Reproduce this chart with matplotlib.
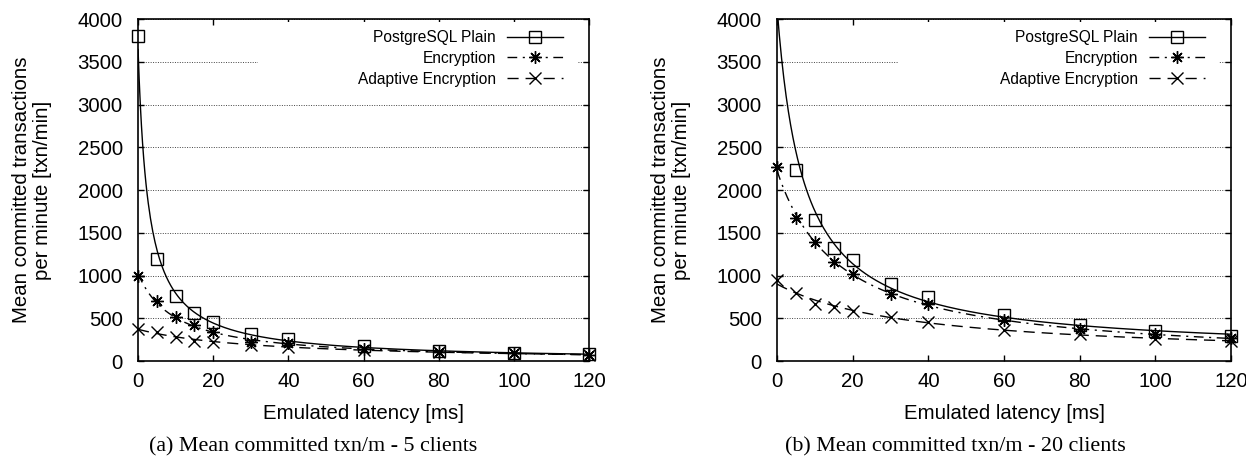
import matplotlib
matplotlib.use("Agg")
import matplotlib.pyplot as plt
from matplotlib.patches import Rectangle
import numpy as np

plt.rcParams["font.family"] = ["Liberation Sans", "DejaVu Sans"]

# emulated latency [ms]
latency = np.array([0, 5, 10, 15, 20, 30, 40, 60, 80, 100, 120])

# 5 clients
plain_5 = np.array([3800, 1190, 763, 566, 460, 311, 255, 170, 115, 95, 78])
enc_5 = np.array([1000, 696, 519, 421, 342, 224, 205, 145, 108, 90, 72])
adapt_5 = np.array([370, 342, 283, 236, 220, 193, 165, 130, 105, 88, 72])

# 20 clients (plain at 0 ms is above the plotted range)
plain_20 = np.array([4500, 2233, 1651, 1317, 1184, 896, 747, 540, 420, 355, 295])
enc_20 = np.array([2269, 1667, 1392, 1160, 1022, 787, 665, 480, 370, 310, 265])
adapt_20 = np.array([943, 795, 672, 637, 586, 519, 453, 368, 310, 262, 233])

series_labels = ["PostgreSQL Plain", "Encryption", "Adaptive Encryption"]
captions = ["(a) Mean committed txn/m - 5 clients",
            "(b) Mean committed txn/m - 20 clients"]

YMAX = 4000
STYLES = [
    dict(linestyle="-", marker="s", mfc="none", ms=8.5),
    dict(linestyle=(0, (7, 4, 1.5, 4)), marker=(8, 2, 0), mfc="none", ms=9),
    dict(linestyle=(0, (8, 5)), marker="x", mfc="none", ms=8.5),
]


def _fit_curve(x, y):
    # relative least squares fit of y = a / (x + b) + c, used for the smooth lines
    w = 1.0 / y
    best = None
    for b in np.linspace(0.3, 80, 800):
        A = np.column_stack([1.0 / (x + b), np.ones_like(x, dtype=float)])
        coef, *_ = np.linalg.lstsq(A * w[:, None], y * w, rcond=None)
        err = np.sum(((A @ coef - y) * w) ** 2)
        if best is None or err < best[0]:
            best = (err, b, coef)
    _, b, (a, c) = best
    xs = np.linspace(x.min(), x.max(), 400)
    return xs, a / (xs + b) + c


def _draw_panel(fig, rect, data):
    ax = fig.add_axes(rect)
    handles = []
    for y, label, style in zip(data, series_labels, STYLES):
        xs, ys = _fit_curve(latency.astype(float), y.astype(float))
        ax.plot(xs, ys, color="black", lw=1.0, linestyle=style["linestyle"],
                zorder=3)
        inside = y <= YMAX
        ax.plot(latency[inside], y[inside], linestyle="none", color="black",
                marker=style["marker"], mfc=style["mfc"], ms=style["ms"],
                mew=1.0, clip_on=False, zorder=4)
        h, = ax.plot([], [], color="black", lw=1.0,
                     linestyle=style["linestyle"], marker=style["marker"],
                     mfc=style["mfc"], ms=style["ms"], mew=1.0)
        h.set_label(label)
        handles.append(h)

    ax.set_xlim(0, 120)
    ax.set_ylim(0, YMAX)
    ax.set_xticks(np.arange(0, 121, 20))
    ax.set_yticks(np.arange(0, 4001, 500))
    ax.tick_params(direction="in", top=True, right=True, length=4.5,
                   width=1.0, labelsize=14.7)
    ax.tick_params(axis="y", pad=11)
    ax.tick_params(axis="x", pad=8)
    for s in ax.spines.values():
        s.set_linewidth(1.2)
    ax.yaxis.grid(True, linestyle=(0, (1, 1.5)), color="#444444", lw=0.7)
    ax.set_axisbelow(True)

    # white key box that hides the grid, as in gnuplot
    ax.add_patch(Rectangle((0.266, 0.77), 0.707, 0.22, transform=ax.transAxes,
                           facecolor="white", edgecolor="none", zorder=2))
    ax.legend(handles=handles, loc="upper right", bbox_to_anchor=(0.942, 0.968),
              frameon=False, markerfirst=False, fontsize=11.2, borderpad=0,
              borderaxespad=0, handlelength=3.6, handletextpad=0.7,
              labelspacing=0.38)

    left, bottom, width, height = rect
    cx = left + width / 2
    fig.text(cx, 0.100, "Emulated latency [ms]", ha="center", va="center",
             fontsize=14.7)
    fig.text(left - 0.085, bottom + height / 2,
             "Mean committed transactions\nper minute [txn/min]",
             rotation=90, ha="center", va="center", fontsize=14.7,
             linespacing=1.1)
    return ax


fig = plt.figure(figsize=(12.46, 4.59), dpi=100)
_draw_panel(fig, [0.1108, 0.2135, 0.3620, 0.7451], [plain_5, enc_5, adapt_5])
_draw_panel(fig, [0.6236, 0.2135, 0.3644, 0.7451], [plain_20, enc_20, adapt_20])

fig.text(313 / 1246, 0.027, captions[0], ha="center", va="center",
         fontsize=15.8, family=["Liberation Serif", "DejaVu Serif"])
fig.text(955 / 1246, 0.027, captions[1], ha="center", va="center",
         fontsize=15.8, family=["Liberation Serif", "DejaVu Serif"])

fig.savefig("out.png", dpi=100)
